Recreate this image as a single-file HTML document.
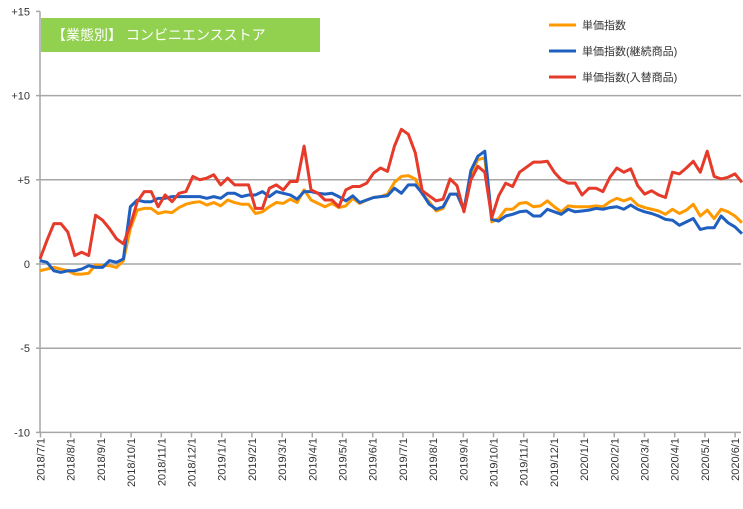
<!DOCTYPE html>
<html><head><meta charset="utf-8"><style>
body{margin:0;background:#fff;}
svg{display:block;font-family:"Liberation Sans","Noto Sans CJK JP",sans-serif;}
</style></head><body>
<svg id="c" width="743" height="509"></svg>
<script>
const monthLabels=["2018/7/1","2018/8/1","2018/9/1","2018/10/1","2018/11/1","2018/12/1","2019/1/1","2019/2/1","2019/3/1","2019/4/1","2019/5/1","2019/6/1","2019/7/1","2019/8/1","2019/9/1","2019/10/1","2019/11/1","2019/12/1","2020/1/1","2020/2/1","2020/3/1","2020/4/1","2020/5/1","2020/6/1"];
const yTicks=[15,10,5,0,-5,-10];
const yTickLabels=["+15","+10","+5","0","-5","-10"];
const seriesNames=["単価指数","単価指数(継続商品)","単価指数(入替商品)"];
const unitIndex=[-0.4,-0.3,-0.2,-0.3,-0.4,-0.6,-0.6,-0.55,-0.05,-0.1,-0.1,-0.2,0.2,2.1,3.2,3.3,3.3,3.0,3.1,3.05,3.35,3.55,3.65,3.7,3.5,3.65,3.45,3.8,3.65,3.55,3.55,3.0,3.1,3.4,3.65,3.6,3.85,3.65,4.4,3.8,3.6,3.4,3.6,3.35,3.45,3.9,3.6,3.8,3.95,4.0,4.15,4.85,5.2,5.25,5.05,4.15,3.7,3.15,3.3,4.15,4.15,3.25,5.35,6.2,6.3,2.5,2.7,3.25,3.25,3.6,3.65,3.4,3.45,3.75,3.4,3.1,3.45,3.4,3.4,3.4,3.45,3.4,3.7,3.9,3.75,3.9,3.5,3.35,3.25,3.15,2.95,3.25,3.0,3.2,3.55,2.85,3.2,2.7,3.25,3.1,2.85,2.45];
const unitContinuing=[0.2,0.1,-0.4,-0.5,-0.4,-0.4,-0.3,-0.1,-0.2,-0.2,0.2,0.1,0.3,3.4,3.8,3.7,3.7,3.9,3.9,4.0,4.0,4.0,4.0,4.0,3.9,4.0,3.9,4.2,4.2,4.0,4.1,4.1,4.3,4.0,4.3,4.2,4.1,3.85,4.3,4.3,4.2,4.15,4.2,4.0,3.75,4.05,3.65,3.8,3.95,4.0,4.05,4.5,4.2,4.7,4.7,4.2,3.55,3.25,3.4,4.15,4.15,3.2,5.55,6.4,6.7,2.65,2.55,2.85,2.95,3.1,3.15,2.85,2.85,3.25,3.1,2.95,3.25,3.1,3.15,3.2,3.3,3.25,3.35,3.4,3.25,3.5,3.25,3.1,3.0,2.85,2.65,2.6,2.3,2.5,2.7,2.05,2.15,2.15,2.85,2.45,2.2,1.8];
const unitReplaced=[0.3,1.4,2.4,2.4,1.9,0.5,0.7,0.5,2.9,2.6,2.1,1.5,1.2,2.3,3.7,4.3,4.3,3.4,4.1,3.7,4.2,4.3,5.2,5.0,5.1,5.3,4.7,5.1,4.7,4.7,4.7,3.3,3.3,4.5,4.7,4.4,4.9,4.9,7.0,4.4,4.2,3.8,3.8,3.4,4.4,4.6,4.6,4.8,5.4,5.7,5.5,7.0,8.0,7.7,6.6,4.35,4.05,3.75,3.85,5.05,4.65,3.1,5.0,5.8,5.45,2.75,4.05,4.8,4.6,5.45,5.75,6.05,6.05,6.1,5.45,5.0,4.8,4.8,4.1,4.5,4.5,4.3,5.15,5.7,5.45,5.65,4.65,4.15,4.35,4.1,3.95,5.45,5.35,5.7,6.1,5.45,6.7,5.2,5.05,5.15,5.35,4.85];
const colors=["#ff9900","#1f5fc0","#e63a2a"];

const NS="http://www.w3.org/2000/svg";
const svg=document.getElementById('c');
function mk(tag,attrs,parent){const e=document.createElementNS(NS,tag);for(const k in attrs)e.setAttribute(k,attrs[k]);(parent||svg).appendChild(e);return e;}
const X0=40,WEEK=6.95,MONTH=30.2;
const yScale=v=>264-v*16.84;
const xWeek=i=>X0+i*WEEK;
const xMonth=m=>X0+0.5+m*MONTH;

// gridlines
yTicks.forEach((t,k)=>{
  if(t!==15&&t!==-10){const g=mk('line',{x1:X0,x2:741,y1:yScale(t),y2:yScale(t),stroke:'#a6a6a6','stroke-width':1.5});
  
  }
  const tl=mk('text',{x:30,y:yScale(t)+4,'text-anchor':'end','font-size':11,fill:'#333'});
  tl.textContent=yTickLabels[k];
  
  
  const tk=mk('line',{x1:X0-4,x2:X0,y1:yScale(t),y2:yScale(t),stroke:'#a6a6a6','stroke-width':1.5});
  
  
});
const ya=mk('line',{x1:X0,x2:X0,y1:yScale(15),y2:yScale(-10),stroke:'#a6a6a6','stroke-width':1.5});


const xa=mk('line',{x1:X0,x2:741,y1:yScale(-10),y2:yScale(-10),stroke:'#a6a6a6','stroke-width':1.5});


monthLabels.forEach((lab,m)=>{
  const x=xMonth(m);
  const tk=mk('line',{x1:x,x2:x,y1:yScale(-10),y2:yScale(-10)+5,stroke:'#a6a6a6','stroke-width':1.5});
  
  
  const t=mk('text',{x:0,y:0,'text-anchor':'end','font-size':11,fill:'#333',transform:`translate(${x+4},438) rotate(-90)`});
  t.textContent=lab;
  
  
});
// series
[unitIndex,unitContinuing,unitReplaced].forEach((arr,s)=>{
  const p=mk('polyline',{points:arr.map((v,i)=>xWeek(i)+','+yScale(v)).join(' '),fill:'none',stroke:colors[s],'stroke-width':3,'stroke-linejoin':'round'});
  
  
});
// title box
const tb=mk('rect',{x:41,y:18,width:279,height:34,fill:'#92d050'});


const tt=mk('text',{x:52,y:40,'font-size':14,fill:'#fff'});
tt.textContent='【業態別】 コンビニエンスストア';


// legend
seriesNames.forEach((n,s)=>{
  const y=25+s*26;
  const l=mk('line',{x1:549,x2:576,y1:y,y2:y,stroke:colors[s],'stroke-width':3});
  
  
  const t=mk('text',{x:582,y:y+4,'font-size':11,fill:'#333'});
  t.textContent=n;
  
  
});
</script>
</body></html>
